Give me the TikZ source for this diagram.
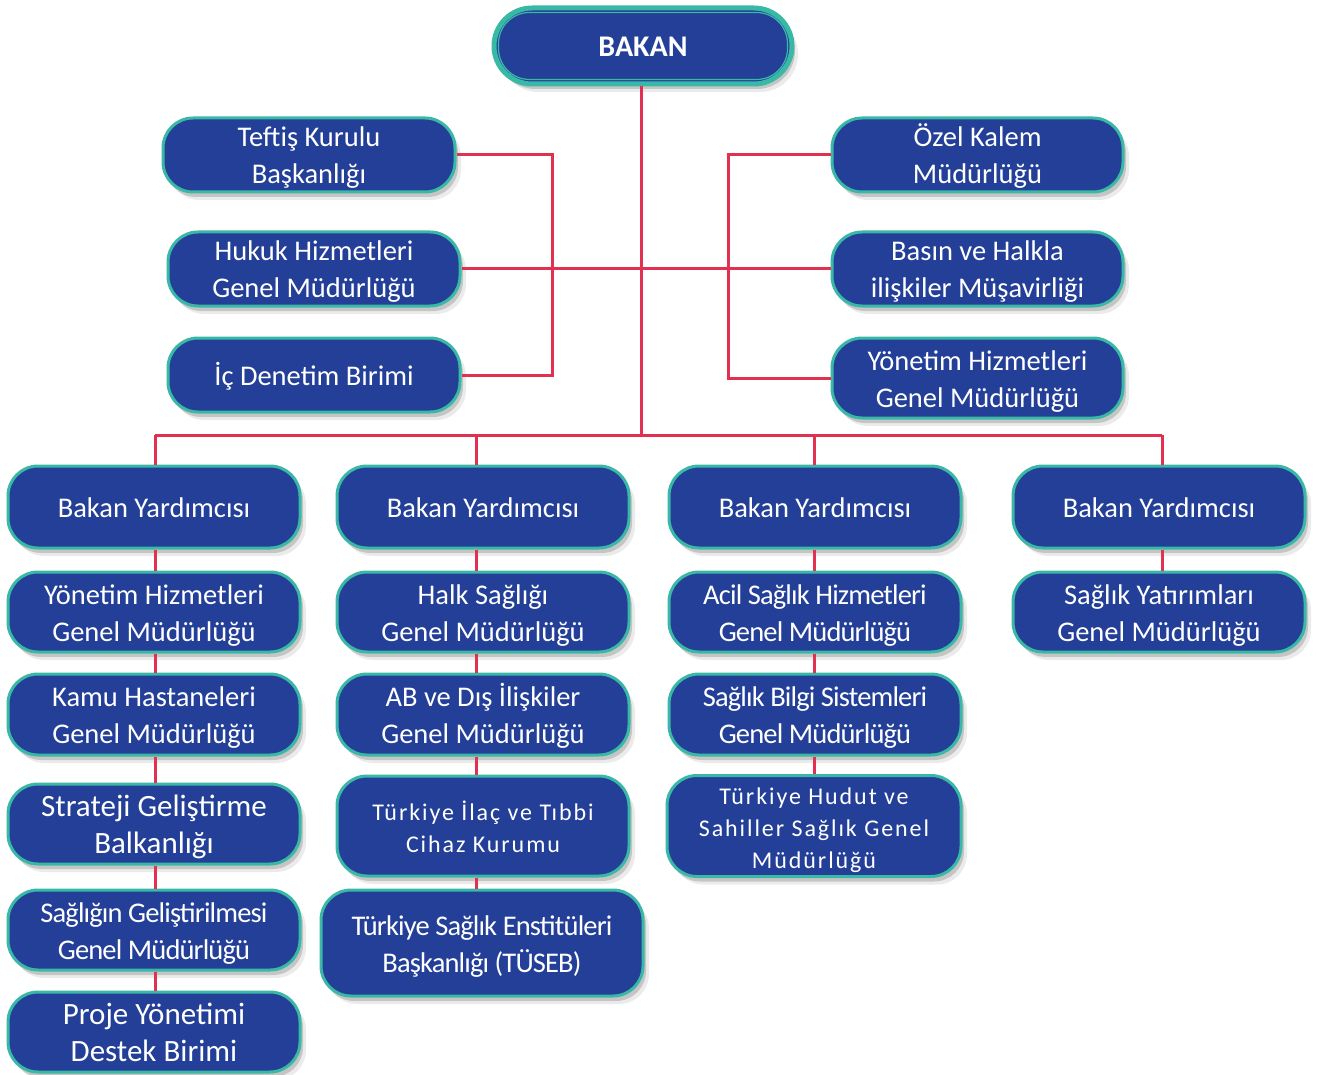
\documentclass[tikz,border=0pt]{standalone}
\usepackage{fontspec}
\setmainfont{Carlito}
\newfontfamily\condfont[LetterSpace=-3]{Carlito}
\newfontfamily\widefont[LetterSpace=8]{Carlito}
\usetikzlibrary{shadows,calc}
\definecolor{boxblue}{RGB}{35,63,152}
\definecolor{boxteal}{RGB}{58,184,166}
\definecolor{linered}{RGB}{226,48,80}
\newcommand\fnorm{\fontsize{28.5}{37}\selectfont}
\newcommand\fbig{\fontsize{31}{37}\selectfont}
\newcommand\fcond{\condfont\fontsize{28.5}{37}\selectfont}
\newcommand\fwide{\widefont\fontsize{24}{32}\selectfont}
\newcommand\fbold{\fontsize{30}{36}\selectfont\bfseries}
\newcommand\tx[1]{\rule{0pt}{29pt}#1\rule[-8pt]{0pt}{8pt}}
\begin{document}
\begin{tikzpicture}[x=1pt,y=-1pt,
  box/.style={rectangle, rounded corners=30pt, fill=boxblue, draw=boxteal, line width=3pt,
    text=white, align=center, inner sep=0pt, minimum width=292pt, minimum height=80pt, font=\fnorm,
    general shadow={shadow xshift=6pt, shadow yshift=-8pt, fill=black, opacity=.08},
    general shadow={shadow xshift=3pt, shadow yshift=-5pt, fill=black, opacity=.16}},
  conn/.style={draw=linered, line width=3pt}]
\useasboundingbox (0,0) rectangle (1322,1075);

% top
\node[box, minimum width=298pt, minimum height=76pt, line width=5pt, rounded corners=38pt, font=\fbold] (bakan) at (643,46) {\tx{BAKAN}};
\draw[draw=boxteal, line width=1.2pt, rounded corners=31pt] ($(bakan.north west)+(7,7)$) rectangle ($(bakan.south east)+(-7,-7)$);

% left staff units
\node[box, minimum height=74pt] (tef) at (309,155) {\tx{Teftiş Kurulu\\Başkanlığı}};
\node[box, minimum height=74pt] (huk) at (314,269) {\tx{Hukuk Hizmetleri\\Genel Müdürlüğü}};
\node[box, minimum height=74pt] (ic) at (314,375) {\tx{İç Denetim Birimi}};
% right staff units
\node[box, minimum width=291pt, minimum height=74pt] (oz) at (977.5,155) {\tx{Özel Kalem\\Müdürlüğü}};
\node[box, minimum width=291pt, minimum height=74pt] (bas) at (977.5,269) {\tx{Basın ve Halkla\\ilişkiler Müşavirliği}};
\node[box, minimum width=291pt, minimum height=80pt] (yonr) at (977.5,378) {\tx{Yönetim Hizmetleri\\Genel Müdürlüğü}};

% Bakan Yardimcisi row
\node[box, minimum height=82pt] (by1) at (154,507) {\tx{Bakan Yardımcısı}};
\node[box, minimum height=82pt] (by2) at (483,507) {\tx{Bakan Yardımcısı}};
\node[box, minimum height=82pt] (by3) at (815,507) {\tx{Bakan Yardımcısı}};
\node[box, minimum height=82pt] (by4) at (1159,507) {\tx{Bakan Yardımcısı}};

% column 1
\node[box] (yh) at (154,612) {\tx{Yönetim Hizmetleri\\Genel Müdürlüğü}};
\node[box, minimum height=81pt] (kh) at (154,714.5) {\tx{Kamu Hastaneleri\\Genel Müdürlüğü}};
\node[box, font=\fbig] (st) at (154,824) {\tx{Strateji Geliştirme\\Balkanlığı}};
\node[box, font=\fcond] (sg) at (154,930) {\tx{Sağlığın Geliştirilmesi\\Genel Müdürlüğü}};
\node[box, font=\fbig] (pr) at (154,1032) {\tx{Proje Yönetimi\\Destek Birimi}};

% column 2
\node[box] (hs) at (483,612) {\tx{Halk Sağlığı\\Genel Müdürlüğü}};
\node[box, minimum height=81pt] (ab) at (483,714.5) {\tx{AB ve Dış İlişkiler\\Genel Müdürlüğü}};
\node[box, minimum height=100pt, font=\fwide] (ti) at (483,826) {\tx{Türkiye İlaç ve Tıbbi\\Cihaz Kurumu}};
\node[box, minimum width=322pt, minimum height=106pt, font=\fcond] (ts) at (482,943) {\tx{Türkiye Sağlık Enstitüleri\\Başkanlığı (TÜSEB)}};

% column 3
\node[box, font=\fcond] (ac) at (815,612) {\tx{Acil Sağlık Hizmetleri\\Genel Müdürlüğü}};
\node[box, minimum height=81pt, font=\fcond] (sb) at (815,714.5) {\tx{Sağlık Bilgi Sistemleri\\Genel Müdürlüğü}};
\node[box, minimum width=294pt, minimum height=100pt, font=\fwide] (th) at (814,826) {\tx{Türkiye Hudut ve\\Sahiller Sağlık Genel\\Müdürlüğü}};

% column 4
\node[box] (sy) at (1159,612) {\tx{Sağlık Yatırımları\\Genel Müdürlüğü}};

% connector helper coordinates
\coordinate (lb) at (552,155);
\coordinate (rb) at (728,155);
\coordinate (bar) at (641,435);
\coordinate (x1) at (155,435);
\coordinate (x2) at (476,435);
\coordinate (x3) at (814,435);
\coordinate (x4) at (1162,435);

% staff connectors
\draw[conn] (tef.east) -| (lb |- ic.east) -- (ic.east);
\draw[conn] (huk.east) -- (bas.west);
\draw[conn] (oz.west) -| (rb |- yonr.west) -- (yonr.west);

% main trunk
\draw[conn] (bakan.south -| bar) -- (bar);
\draw[conn] (x1) -- (x4);
\draw[conn] (x1) -- (by1.north -| x1);
\draw[conn] (x2) -- (by2.north -| x2);
\draw[conn] (x3) -- (by3.north -| x3);
\draw[conn] (x4) -- (by4.north -| x4);

% column connectors
\draw[conn] (by1.south -| x1) -- (yh.north -| x1);
\draw[conn] (yh.south -| x1) -- (kh.north -| x1);
\draw[conn] (kh.south -| x1) -- (st.north -| x1);
\draw[conn] (st.south -| x1) -- (sg.north -| x1);
\draw[conn] (sg.south -| x1) -- (pr.north -| x1);

\draw[conn] (by2.south -| x2) -- (hs.north -| x2);
\draw[conn] (hs.south -| x2) -- (ab.north -| x2);
\draw[conn] (ab.south -| x2) -- (ti.north -| x2);
\draw[conn] (ti.south -| x2) -- (ts.north -| x2);

\draw[conn] (by3.south -| x3) -- (ac.north -| x3);
\draw[conn] (ac.south -| x3) -- (sb.north -| x3);
\draw[conn] (sb.south -| x3) -- (th.north -| x3);

\draw[conn] (by4.south -| x4) -- (sy.north -| x4);
\end{tikzpicture}
\end{document}
